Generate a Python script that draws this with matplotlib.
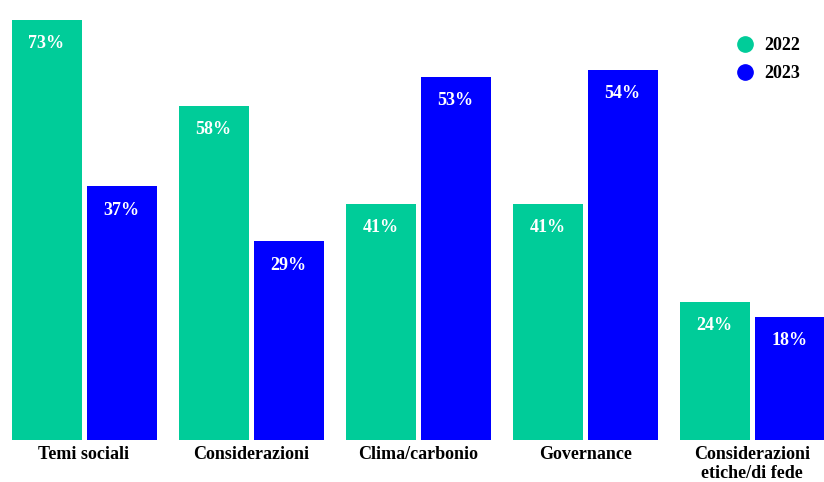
import matplotlib
matplotlib.use("Agg")
import matplotlib.pyplot as plt
from matplotlib.lines import Line2D
import numpy as np

categories = ["Temi sociali", "Considerazioni", "Clima/carbonio", "Governance",
              "Considerazioni\netiche/di fede"]
values_2022 = [73, 58, 41, 41, 24]
values_2023 = [37, 29, 53, 54, 18]
series_labels = ["2022", "2023"]

GREEN = "#00CC99"
BLUE = "#0000FF"
FONT = dict(family="Liberation Serif", weight="bold")

fig = plt.figure(figsize=(8.24, 4.82), dpi=100)
ax = fig.add_axes([0, 42 / 482, 1, 440 / 482])
ax2 = ax.twinx()  # 2023 series drawn on its own value scale

x = np.arange(len(categories))
width = 0.419
offset = 0.2245

ax.bar(x - offset, values_2022, width=width, color=GREEN, zorder=2)
ax2.bar(x + offset, values_2023, width=width, color=BLUE, zorder=2)

ax.set_xlim(-0.503, 4.430)
ax.set_ylim(0, 76.4)
ax2.set_ylim(0, 64.2)

lab_off = -24 * 72 / 100
for a, xs, vals in ((ax, x - offset, values_2022), (ax2, x + offset, values_2023)):
    for xi, v in zip(xs, vals):
        a.annotate(f"{v}%", (xi, v), xytext=(0, lab_off), textcoords="offset points",
                   ha="center", va="center", color="white", fontsize=13, **FONT)

for xi, cat in zip(x, categories):
    ax.annotate(cat, (xi, 0), xycoords=("data", "axes fraction"),
                xytext=(0, -6 * 72 / 100), textcoords="offset points",
                ha="center", va="top", fontsize=13, color="black",
                linespacing=1.12, annotation_clip=False, **FONT)

for a in (ax, ax2):
    a.axis("off")

handles = [Line2D([], [], marker="o", linestyle="none", markersize=11,
                  markerfacecolor=c, markeredgecolor=c) for c in (GREEN, BLUE)]
fig.legend(handles, series_labels, loc="upper left",
           bbox_to_anchor=(0.873, 0.957), bbox_transform=fig.transFigure,
           frameon=False, handlelength=1.0, handletextpad=0.6, labelspacing=0.62,
           prop=dict(family="Liberation Serif", weight="bold", size=13))

fig.savefig("out.png", dpi=100)
